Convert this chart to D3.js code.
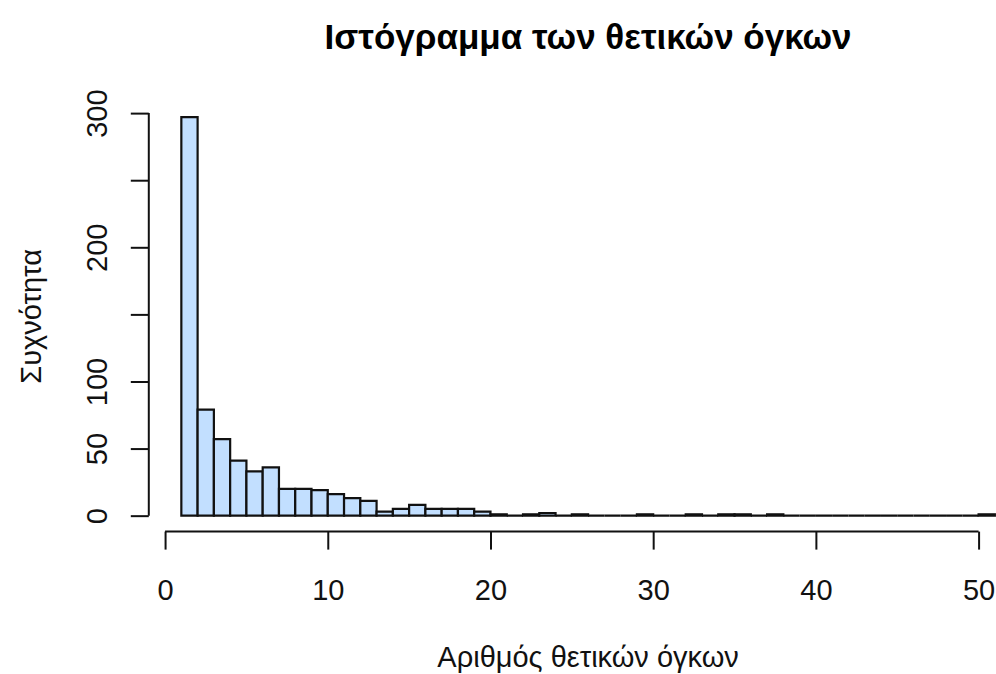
<!DOCTYPE html>
<html>
<head>
<meta charset="utf-8">
<script src="https://cdn.jsdelivr.net/npm/d3@7"></script>
<style>
  body { margin: 0; background: #fff; }
  svg { display: block; font-family: "Liberation Sans", Arial, sans-serif; }
</style>
</head>
<body>
<svg id="chart" width="996" height="674"></svg>
<script>
// counts per bin [1,2), [2,3), ... [50,51]
var counts = [297, 79, 57, 41, 33, 36, 20, 20, 19, 16,
              13, 11, 3, 5, 8, 5, 5, 5, 3, 1,
              0, 1, 2, 0, 1, 0, 0, 0, 1, 0,
              0, 1, 0, 1, 1, 0, 1, 0, 0, 0,
              0, 0, 0, 0, 0, 0, 0, 0, 0, 1];
var binStart = 1;
var binWidth = 1;

var xTicks = [0, 10, 20, 30, 40, 50];
var yTicks = [0, 50, 100, 150, 200, 250, 300];
var yTickLabels = ["0", "50", "100", "", "200", "", "300"];

var titleText = "Ιστόγραμμα των θετικών όγκων";
var xLabel = "Αριθμός θετικών όγκων";
var yLabel = "Συχνότητα";

var svg = d3.select("#chart");

// plot region (R style, 4% padding on both axes)
var plotLeft = 148.8, plotRight = 1027.4, plotTop = 101.2, plotBottom = 531.6;

var bins = counts.map(function(c, i) {
  return { x0: binStart + i * binWidth, x1: binStart + (i + 1) * binWidth, n: c };
});

var xlim = [bins[0].x0, bins[bins.length - 1].x1];
var xpad = (xlim[1] - xlim[0]) * 0.04;
var x = d3.scaleLinear()
  .domain([xlim[0] - xpad, xlim[1] + xpad])
  .range([plotLeft, plotRight]);

var ymax = d3.max(counts);
var ypad = ymax * 0.04;
var y = d3.scaleLinear()
  .domain([-ypad, ymax + ypad])
  .range([plotBottom, plotTop]);

// bars (paths so zero-height bins still show as a line)
svg.append("g")
  .selectAll("path")
  .data(bins)
  .enter()
  .append("path")
  .attr("d", function(d) {
    var a = x(d.x0), b = x(d.x1), y0 = y(0), y1 = y(d.n);
    return "M" + a + "," + y0 + "V" + y1 + "H" + b + "V" + y0 + "Z";
  })
  .attr("fill", "#c2dfff")
  .attr("stroke", "#111")
  .attr("stroke-width", 2.2)
  .attr("stroke-linejoin", "miter");

// x axis
var gx = svg.append("g")
  .attr("transform", "translate(0," + plotBottom + ")")
  .call(d3.axisBottom(x).tickValues(xTicks).tickSize(18).tickSizeOuter(0));
gx.select(".domain").remove();
gx.append("line")
  .attr("x1", x(xTicks[0])).attr("x2", x(xTicks[xTicks.length - 1]))
  .attr("stroke", "#111").attr("stroke-width", 2);
gx.selectAll(".tick line").attr("stroke", "#111").attr("stroke-width", 2);
gx.selectAll(".tick text")
  .attr("y", 68).attr("dy", null)
  .attr("fill", "#111")
  .style("font-size", "29px")
  .style("font-family", "Liberation Sans, Arial, sans-serif");

// y axis
var gy = svg.append("g")
  .attr("transform", "translate(" + plotLeft + ",0)")
  .call(d3.axisLeft(y).tickValues(yTicks)
    .tickFormat(function(d, i) { return yTickLabels[i]; })
    .tickSize(18).tickSizeOuter(0));
gy.select(".domain").remove();
gy.append("line")
  .attr("y1", y(yTicks[0])).attr("y2", y(yTicks[yTicks.length - 1]))
  .attr("stroke", "#111").attr("stroke-width", 2);
gy.selectAll(".tick line").attr("stroke", "#111").attr("stroke-width", 2);
gy.selectAll(".tick text")
  .attr("x", null).attr("dy", null)
  .attr("text-anchor", "middle")
  .attr("transform", "translate(-42,0) rotate(-90)")
  .attr("fill", "#111")
  .style("font-size", "29px")
  .style("font-family", "Liberation Sans, Arial, sans-serif");

var midX = (plotLeft + plotRight) / 2;

// title
svg.append("text")
  .attr("x", midX)
  .attr("y", 49)
  .attr("text-anchor", "middle")
  .style("font-size", "35px")
  .style("font-weight", "bold")
  .attr("fill", "#000")
  .text(titleText);

// axis labels
svg.append("text")
  .attr("x", midX)
  .attr("y", 667)
  .attr("text-anchor", "middle")
  .style("font-size", "29px")
  .attr("fill", "#111")
  .text(xLabel);

svg.append("text")
  .attr("transform", "translate(41," + (plotTop + plotBottom) / 2 + ") rotate(-90)")
  .attr("text-anchor", "middle")
  .style("font-size", "29px")
  .attr("fill", "#111")
  .text(yLabel);
</script>
</body>
</html>
